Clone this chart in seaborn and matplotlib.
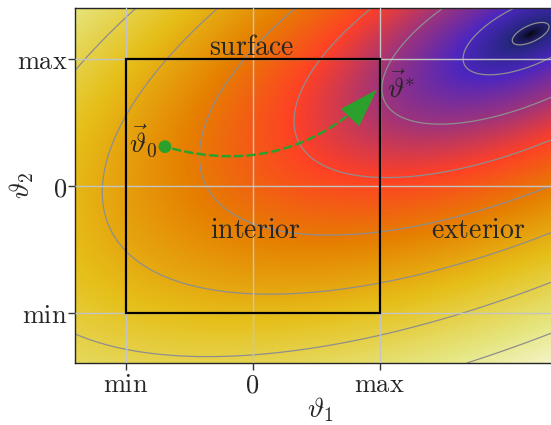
import numpy as np
import matplotlib
matplotlib.use("Agg")
import matplotlib.pyplot as plt
import seaborn as sns
from matplotlib.patches import Rectangle

# ---- data ----
tick_values = [-1, 0, 1]
tick_labels = ["min", "0", "max"]
optimum = [2.19, 1.20]                 # location of the minimum (dark spot)
quad_form = [[0.37, -0.37], [-0.37, 1.0]]  # shape of the tilted bowl
color_scale = 0.532
color_power = 0.586
contour_levels = [0.112, 0.24, 0.381, 0.5, 0.609, 0.708, 0.803, 0.893]
start_point = [-0.69, 0.31]
end_point = [0.98, 0.76]
box_lo, box_hi = -1, 1
region_names = ["surface", "interior", "exterior"]
region_x = [-0.01, 0.02, 1.776]
region_y = [1.031, -0.409, -0.409]
xlim = (-1.398, 2.35)
ylim = (-1.394, 1.402)

sns.set_theme(style="ticks")
plt.rcParams["mathtext.fontset"] = "cm"
plt.rcParams["font.family"] = ["DejaVu Serif"]

fig = plt.figure(figsize=(5.51, 4.25), dpi=100)
ax = fig.add_axes([75 / 551, 62 / 425, 476 / 551, 355 / 425])

xs = np.linspace(xlim[0], xlim[1], 700)
ys = np.linspace(ylim[0], ylim[1], 520)
X, Y = np.meshgrid(xs, ys)
dx = X - optimum[0]
dy = Y - optimum[1]
q = quad_form[0][0] * dx**2 + 2 * quad_form[0][1] * dx * dy + quad_form[1][1] * dy**2
T = color_scale * np.power(q, color_power / 2)

ax.imshow(T, extent=[xlim[0], xlim[1], ylim[0], ylim[1]], origin="lower",
          cmap="CMRmap", vmin=0, vmax=1, aspect="auto",
          interpolation="bilinear", zorder=0)
ax.contour(X, Y, T, levels=contour_levels, colors="#8e8e8e",
           linewidths=0.9, zorder=1)

ax.set_xlim(*xlim)
ax.set_ylim(*ylim)
ax.set_xticks(tick_values)
ax.set_yticks(tick_values)
ax.set_xticklabels([r"$\mathrm{%s}$" % t for t in tick_labels], fontsize=19)
ax.set_yticklabels([r"$\mathrm{%s}$" % t for t in tick_labels], fontsize=19)
ax.tick_params(length=5, width=1, color=".2")
ax.tick_params(axis="y", pad=0.5)
ax.tick_params(axis="x", pad=1.5)
ax.grid(True, color="#c4c4c4", lw=1.0)
ax.set_axisbelow(False)
for s in ["left", "bottom", "top"]:
    ax.spines[s].set_color(".15")
    ax.spines[s].set_linewidth(1.0)
ax.spines["right"].set_visible(False)

ax.set_xlabel(r"$\vartheta_1$", fontsize=20, va="center", ha="center")
ax.set_ylabel(r"$\vartheta_2$", fontsize=20, va="center", ha="center")
ax.xaxis.set_label_coords((320 - 75) / 476, (363 - 410) / 355)
ax.yaxis.set_label_coords((22 - 75) / 476, (363 - 185) / 355)

ax.add_patch(Rectangle((box_lo, box_lo), box_hi - box_lo, box_hi - box_lo,
                       fill=False, ec="black", lw=1.6, zorder=3))

for name, x, y in zip(region_names, region_x, region_y):
    ax.text(x, y, r"$\mathrm{%s}$" % name, fontsize=20, ha="center",
            va="baseline", zorder=4)

green = "#2ca02c"
# dashed curved shaft
ax.annotate("", xy=end_point, xytext=start_point,
            arrowprops=dict(arrowstyle="-", connectionstyle="arc3,rad=0.3",
                            color=green, lw=1.8, linestyle=(0, (3, 2)),
                            shrinkA=6, shrinkB=12),
            zorder=5)
# solid filled head on the same curve
ax.annotate("", xy=end_point, xytext=start_point,
            arrowprops=dict(arrowstyle="-|>,head_length=1.4,head_width=0.45",
                            connectionstyle="arc3,rad=0.3", color=green,
                            lw=0, mutation_scale=20, shrinkA=6, shrinkB=0),
            zorder=5)
sns.scatterplot(x=[start_point[0]], y=[start_point[1]], color=green,
                s=85, edgecolor="none", ax=ax, zorder=6, legend=False)

ax.text(start_point[0] - 0.055, start_point[1] - 0.047, r"$\vec{\vartheta}_0$",
        fontsize=20, ha="right", va="baseline", zorder=6)
ax.text(end_point[0] + 0.08, end_point[1] - 0.07, r"$\vec{\vartheta}^{*}$",
        fontsize=20, ha="left", va="baseline", zorder=6)

fig.savefig("out.png", dpi=100)
